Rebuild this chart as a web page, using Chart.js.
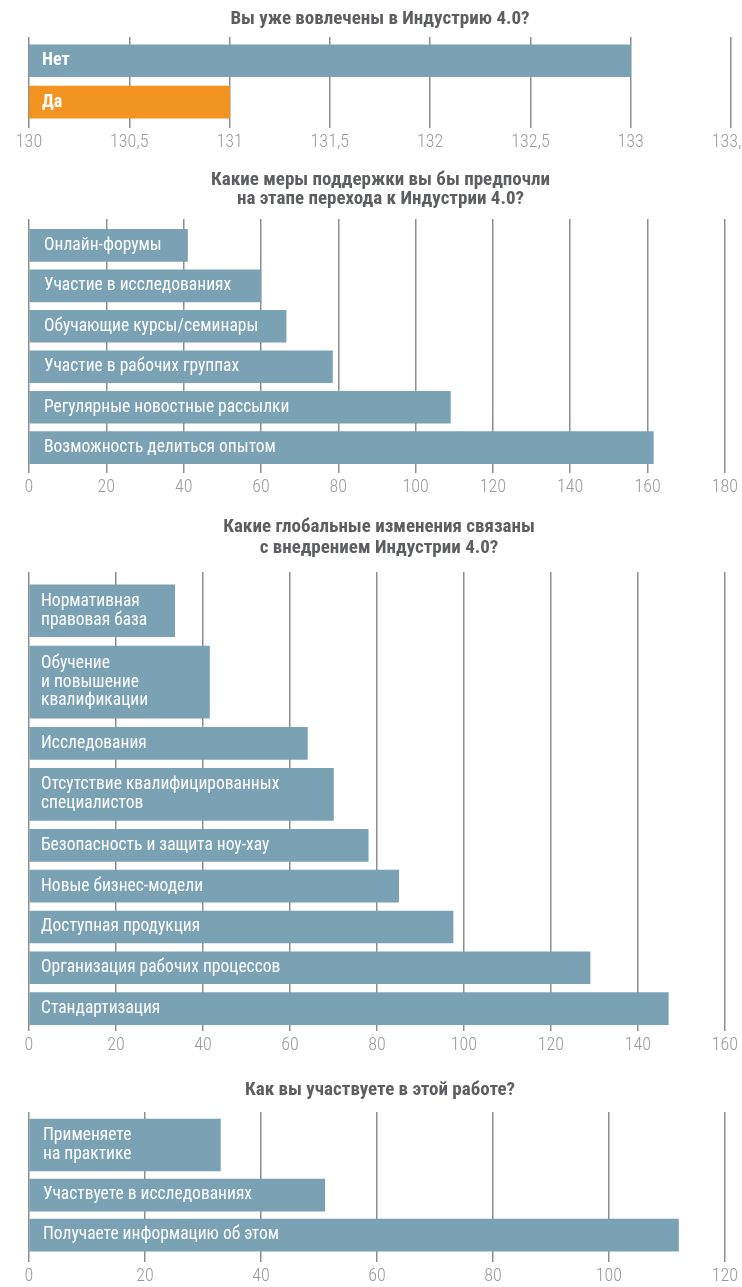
<!DOCTYPE html>
<html>
<head>
<meta charset="utf-8">
<script src="https://cdn.jsdelivr.net/npm/chart.js@4.4.1/dist/chart.umd.min.js"></script>
<style>
  body { margin: 0; background: #fff; overflow: hidden; width: 742px; height: 1287px; position: relative; }
  .box { position: absolute; left: 0; overflow: hidden; }
</style>
</head>
<body>
<div class="box" style="top:0;width:760px;height:160px"><canvas id="c1"></canvas></div>
<div class="box" style="top:160px;width:742px;height:345px"><canvas id="c2"></canvas></div>
<div class="box" style="top:505px;width:742px;height:565px"><canvas id="c3"></canvas></div>
<div class="box" style="top:1070px;width:742px;height:225px"><canvas id="c4"></canvas></div>
<script>
const FONT = '"Roboto Condensed", "DejaVu Sans Condensed", sans-serif';
const BLUE = '#7aa1b4';
const ORANGE = '#f39321';

// Вы уже вовлечены в Индустрию 4.0?
const involvedLabels = ['Нет', 'Да'];
const involvedValues = [133, 131];
const involvedColors = [BLUE, ORANGE];
const involvedTicks = [130, 130.5, 131, 131.5, 132, 132.5, 133, 133.5];

// Какие меры поддержки ...
const supportLabels = ['Онлайн-форумы', 'Участие в исследованиях', 'Обучающие курсы/семинары',
  'Участие в рабочих группах', 'Регулярные новостные рассылки', 'Возможность делиться опытом'];
const supportValues = [41, 60, 66.5, 78.5, 109, 161.5];
const supportTicks = [0, 20, 40, 60, 80, 100, 120, 140, 160, 180];

// Какие глобальные изменения ...
const changesLabels = [['Нормативная', 'правовая база'], ['Обучение', 'и повышение', 'квалификации'],
  'Исследования', ['Отсутствие квалифицированных', 'специалистов'], 'Безопасность и защита ноу-хау',
  'Новые бизнес-модели', 'Доступная продукция', 'Организация рабочих процессов', 'Стандартизация'];
const changesValues = [33.5, 41.5, 64, 70, 78, 85, 97.5, 129, 147];
const changesTicks = [0, 20, 40, 60, 80, 100, 120, 140, 160];

// Как вы участвуете в этой работе?
const workLabels = [['Применяете', 'на практике'], 'Участвуете в исследованиях', 'Получаете информацию об этом'];
const workValues = [33, 51, 112];
const workTicks = [0, 20, 40, 60, 80, 100, 120];

// each row takes one slot for one text line, half a slot more per extra line
function rows(labels) {
  let pos = 0;
  return labels.map(l => {
    const lines = Array.isArray(l) ? l.length : 1;
    const slot = (lines + 1) / 2;
    const r = { center: pos + slot / 2, lines: lines };
    pos += slot;
    return r;
  });
}

function makeChart(id, c) {
  const r = rows(c.labels);
  const total = r.reduce((s, x) => s + (x.lines + 1) / 2, 0);
  const groups = [...new Set(r.map(x => x.lines))];
  const datasets = groups.map(n => {
    const idx = r.map((x, i) => x.lines === n ? i : -1).filter(i => i >= 0);
    return {
      data: idx.map(i => ({ x: c.values[i], y: r[i].center })),
      backgroundColor: idx.map(i => c.colors ? c.colors[i] : BLUE),
      barThickness: 40 * (n + 1) / 2 - 8,
      grouped: false
    };
  });

  new Chart(document.getElementById(id), {
    type: 'bar',
    data: { datasets: datasets },
    options: {
      indexAxis: 'y',
      responsive: true,
      maintainAspectRatio: false,
      animation: false,
      events: [],
      layout: { padding: { left: 29, right: c.right, top: 0, bottom: c.bottom } },
      plugins: {
        legend: { display: false },
        tooltip: { enabled: false },
        title: {
          display: true,
          text: c.title,
          color: '#5d5e60',
          font: { family: FONT, size: 19, weight: 'bold', lineHeight: c.titleLH },
          padding: { top: c.tTop, bottom: c.tBottom }
        }
      },
      scales: {
        x: {
          type: 'linear',
          min: c.ticks[0],
          max: c.ticks[c.ticks.length - 1],
          afterBuildTicks: s => { s.ticks = c.ticks.map(v => ({ value: v })); },
          grid: { color: '#8e8e8e', lineWidth: 1.5, drawTicks: false },
          border: { display: false },
          ticks: {
            color: '#9a9a9a',
            padding: 4,
            autoSkip: false,
            maxRotation: 0,
            font: { family: FONT, size: 18, weight: 300, lineHeight: 1.2 },
            callback: v => String(v).replace('.', ',')
          }
        },
        y: {
          type: 'linear',
          reverse: true,
          offset: false,
          bounds: 'data',
          min: -c.yTop,
          max: total + c.yBottom,
          afterBuildTicks: s => { s.ticks = r.map(x => ({ value: x.center })); },
          afterFit: s => { s.width = 0; },
          grid: { display: false, drawTicks: false },
          border: { display: false },
          ticks: {
            mirror: true,
            z: 1,
            padding: c.labelPad,
            autoSkip: false,
            color: '#ffffff',
            font: { family: FONT, size: c.bold ? 18 : 17.5, weight: c.bold ? 'bold' : 'normal', lineHeight: 1.08 },
            callback: (v, i) => c.labels[i]
          }
        }
      }
    }
  });
}

makeChart('c1', {
  title: 'Вы уже вовлечены в Индустрию 4.0?', titleLH: 1.2, tTop: 7.6, tBottom: 6.6,
  labels: involvedLabels, values: involvedValues, colors: involvedColors, ticks: involvedTicks,
  right: 29, bottom: 2.4, yTop: 0.075, yBottom: 0.125, labelPad: 13, bold: true
});
makeChart('c2', {
  title: ['Какие меры поддержки вы бы предпочли', 'на этапе перехода к Индустрии 4.0?'], titleLH: 0.974, tTop: 11.25, tBottom: 10.75,
  labels: supportLabels, values: supportValues, ticks: supportTicks,
  right: 10, bottom: 2.4, yTop: 0.15, yBottom: 0.125, labelPad: 15
});
makeChart('c3', {
  title: ['Какие глобальные изменения связаны', 'с внедрением Индустрии 4.0?'], titleLH: 1.105, tTop: 11.5, tBottom: 13.5,
  labels: changesLabels, values: changesValues, ticks: changesTicks,
  right: 13, bottom: 9.4, yTop: 0.2, yBottom: 0.05, labelPad: 12
});
makeChart('c4', {
  title: 'Как вы участвуете в этой работе?', titleLH: 1.2, tTop: 8.6, tBottom: 10.6,
  labels: workLabels, values: workValues, ticks: workTicks,
  right: 11, bottom: 0, yTop: 0.075, yBottom: 0.175, labelPad: 14
});
</script>
</body>
</html>
